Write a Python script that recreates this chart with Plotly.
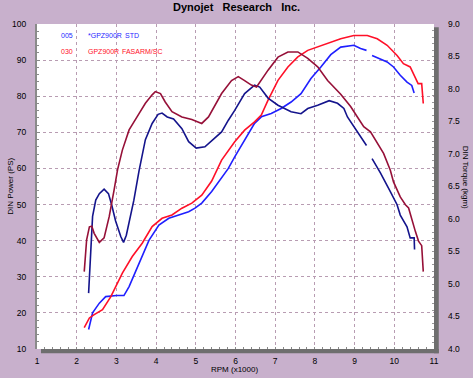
import plotly.graph_objects as go

# ---------------- data ----------------
rpm_pw_005 = [2.30, 2.40, 2.57, 2.73, 3.00, 3.19, 3.32, 3.57, 3.82, 4.07, 4.32, 4.57, 4.82, 4.98, 5.15, 5.40,
              5.65, 5.82, 5.98, 6.23, 6.48, 6.65, 6.90, 7.15, 7.40, 7.65, 7.90, 8.15, 8.40, 8.65, 8.98, 9.15,
              9.30, None, 9.44, 9.65, 9.82, 9.98, 10.15, 10.32, 10.44, 10.50]
pw_005 = [15.4, 20.0, 22.7, 24.5, 24.8, 24.8, 27.3, 33.7, 40.1, 44.3, 46.2, 47.1, 48.0, 49.0, 50.4, 53.6,
          57.3, 60.0, 63.2, 67.8, 72.5, 74.3, 75.2, 76.6, 78.4, 80.7, 84.9, 88.1, 91.5, 93.6, 94.1, 93.2,
          92.7, None, 91.3, 90.4, 89.5, 88.1, 85.8, 83.9, 83.0, 80.9]

rpm_pw_030 = [2.19, 2.32, 2.44, 2.65, 2.86, 3.15, 3.40, 3.65, 3.90, 4.15, 4.40, 4.65, 4.90, 5.15, 5.40, 5.65,
              5.98, 6.23, 6.48, 6.65, 6.82, 7.07, 7.32, 7.57, 7.82, 8.07, 8.32, 8.65, 8.98, 9.32, 9.57, 9.82,
              10.07, 10.23, 10.40, 10.53, 10.60, 10.69, 10.73]
pw_030 = [15.9, 18.6, 19.5, 20.9, 24.5, 31.0, 35.6, 39.3, 43.9, 46.2, 47.1, 49.0, 50.4, 52.6, 56.5, 62.3,
          67.4, 70.6, 72.9, 74.8, 78.9, 84.4, 88.1, 90.9, 92.7, 93.6, 94.6, 95.9, 96.8, 96.8, 95.9, 94.1,
          91.3, 89.0, 88.1, 85.3, 83.5, 83.5, 78.0]

rpm_tq_005 = [2.30, 2.36, 2.40, 2.48, 2.57, 2.69, 2.80, 2.88, 2.98, 3.11, 3.18, 3.25, 3.36, 3.44, 3.57, 3.73,
              3.90, 4.05, 4.15, 4.28, 4.44, 4.65, 4.82, 5.01, 5.23, 5.48, 5.65, 5.82, 5.98, 6.23, 6.48, 6.61,
              6.82, 7.07, 7.40, 7.65, 7.82, 8.07, 8.36, 8.57, 8.73, 8.82, 8.98, 9.15, 9.30, None, 9.44, 9.65,
              9.90, 10.07, 10.15, 10.32, 10.40, 10.50, 10.51]
tq_005 = [4.86, 5.53, 6.04, 6.29, 6.39, 6.46, 6.39, 6.22, 5.97, 5.73, 5.64, 5.75, 6.06, 6.29, 6.74, 7.22,
          7.47, 7.61, 7.63, 7.57, 7.54, 7.39, 7.19, 7.09, 7.11, 7.24, 7.34, 7.52, 7.67, 7.93, 8.06, 8.03,
          7.86, 7.75, 7.65, 7.62, 7.70, 7.75, 7.82, 7.78, 7.70, 7.57, 7.42, 7.27, 7.13, None, 6.93, 6.71,
          6.42, 6.22, 6.06, 5.88, 5.71, 5.71, 5.53]

rpm_tq_030 = [2.19, 2.25, 2.32, 2.38, 2.44, 2.57, 2.69, 2.82, 2.94, 3.03, 3.15, 3.32, 3.57, 3.73, 3.90, 3.98,
              4.11, 4.23, 4.40, 4.65, 4.90, 5.15, 5.32, 5.48, 5.65, 5.90, 6.07, 6.23, 6.40, 6.53, 6.82, 7.07,
              7.32, 7.57, 7.82, 8.07, 8.32, 8.65, 8.90, 9.07, 9.23, 9.40, 9.57, 9.73, 9.90, 9.98, 10.15, 10.28,
              10.36, 10.44, 10.53, 10.61, 10.69, 10.73]
tq_030 = [5.19, 5.68, 5.88, 5.89, 5.78, 5.64, 5.71, 6.04, 6.44, 6.76, 7.06, 7.37, 7.62, 7.78, 7.91, 7.96,
          7.93, 7.80, 7.65, 7.57, 7.53, 7.47, 7.57, 7.75, 7.93, 8.13, 8.19, 8.13, 8.06, 8.03, 8.29, 8.49,
          8.57, 8.57, 8.47, 8.34, 8.13, 7.92, 7.73, 7.57, 7.42, 7.34, 7.16, 7.01, 6.75, 6.57, 6.34, 6.22,
          6.17, 5.98, 5.81, 5.66, 5.59, 5.19]

x_ticks = list(range(1, 12))
legend_rows = [("005", "*GPZ900R", "STD"), ("030", "GPZ900R", "FASARM/SC")]

# ---------------- styles ----------------
C_BLUE = "#1f1fff"
C_RED = "#ff1028"
C_NAVY = "#14148c"
C_MAROON = "#961038"
GRID = "#b89cb2"
BG = "#c8b0cc"
FONT = "Liberation Sans, Arial, sans-serif"

fig = go.Figure()
fig.add_trace(go.Scatter(x=rpm_tq_005, y=tq_005, mode="lines", yaxis="y2",
                         line=dict(color=C_NAVY, width=1.6), connectgaps=False))
fig.add_trace(go.Scatter(x=rpm_tq_030, y=tq_030, mode="lines", yaxis="y2",
                         line=dict(color=C_MAROON, width=1.6)))
fig.add_trace(go.Scatter(x=rpm_pw_005, y=pw_005, mode="lines",
                         line=dict(color=C_BLUE, width=1.6), connectgaps=False))
fig.add_trace(go.Scatter(x=rpm_pw_030, y=pw_030, mode="lines",
                         line=dict(color=C_RED, width=1.6)))

tickfont = dict(family=FONT, size=8.5, color="#000000")

fig.update_layout(
    width=473, height=378,
    margin=dict(l=34, r=39, t=24, b=28),
    paper_bgcolor=BG, plot_bgcolor="#ffffff",
    showlegend=False,
    xaxis=dict(range=[1, 11], tickvals=x_ticks, showgrid=True, gridcolor=GRID, griddash="dot",
               gridwidth=1, zeroline=False, showline=False, ticks="inside", ticklen=2,
               tickcolor="#888888", tickfont=tickfont, ticklabelstandoff=5,
               minor=dict(dtick=0.2, ticks="inside", ticklen=2, tickcolor="#888888", showgrid=False)),
    yaxis=dict(range=[10, 100], dtick=10, showgrid=True, gridcolor=GRID, griddash="dot", gridwidth=1,
               zeroline=False, showline=True, linecolor="#8a8a8a", linewidth=2, ticks="inside",
               ticklen=3, tickcolor="#8a8a8a", tickfont=tickfont, ticklabelstandoff=7,
               minor=dict(dtick=2, ticks="inside", ticklen=2, tickcolor="#8a8a8a")),
    yaxis2=dict(range=[4, 9], dtick=0.5, tickformat=".1f", overlaying="y", side="right",
                showgrid=False, zeroline=False, showline=False, ticks="inside", ticklen=2,
                tickcolor="#999999", tickfont=tickfont, ticklabelstandoff=13,
                minor=dict(dtick=0.1, ticks="inside", ticklen=2, tickcolor="#999999")),
)

# shadow along the right and bottom edges of the plot area
fig.add_shape(type="rect", xref="paper", yref="paper", x0=1.0, x1=1.012, y0=-0.013, y1=0.99,
              fillcolor="#6e6e6e", line=dict(width=0), layer="above")
fig.add_shape(type="rect", xref="paper", yref="paper", x0=0.01, x1=1.012, y0=-0.013, y1=0.0,
              fillcolor="#6e6e6e", line=dict(width=0), layer="above")

ann = []
ann.append(dict(text="<b>Dynojet\u00a0\u00a0\u00a0Research\u00a0\u00a0\u00a0Inc.</b>", xref="paper", yref="paper",
                x=(235 - 34) / 400, y=1.0 + 17 / 326, xanchor="center", yanchor="middle", showarrow=False,
                font=dict(family=FONT, size=11, color="#000000")))
ann.append(dict(text="RPM (x1000)", xref="paper", yref="paper", x=(233 - 34) / 400, y=-21 / 326,
                xanchor="center", yanchor="middle", showarrow=False, font=dict(family=FONT, size=8, color="#000")))
ann.append(dict(text="DIN Power (PS)", xref="paper", yref="paper", x=(7 - 34) / 400, y=(350 - 187) / 326,
                xanchor="center", yanchor="middle", showarrow=False, textangle=-90,
                font=dict(family=FONT, size=8, color="#000")))
ann.append(dict(text="DIN Torque (kgm)", xref="paper", yref="paper", x=(466 - 34) / 400, y=(350 - 178) / 326,
                xanchor="center", yanchor="middle", showarrow=False, textangle=90,
                font=dict(family=FONT, size=8, color="#000")))

row_y = [(350 - 35.5) / 326, (350 - 51.5) / 326]
row_col = [C_BLUE, C_RED]
third_x = [121, 118]
for (a, b, c), yy, col, tx in zip(legend_rows, row_y, row_col, third_x):
    f = dict(family=FONT, size=7, color=col)
    ann.append(dict(text=a, xref="paper", yref="paper", x=(72 - 34) / 400, y=yy, xanchor="right",
                    yanchor="middle", showarrow=False, font=f))
    ann.append(dict(text=b, xref="paper", yref="paper", x=(83 - 34) / 400, y=yy, xanchor="left",
                    yanchor="middle", showarrow=False, font=f))
    ann.append(dict(text=c, xref="paper", yref="paper", x=(tx - 34) / 400, y=yy,
                    xanchor="left", yanchor="middle", showarrow=False, font=f))
fig.update_layout(annotations=ann)

fig.write_html("out.html", config={"displayModeBar": False},
               post_script="document.body.style.margin='0';document.body.style.overflow='hidden';")
